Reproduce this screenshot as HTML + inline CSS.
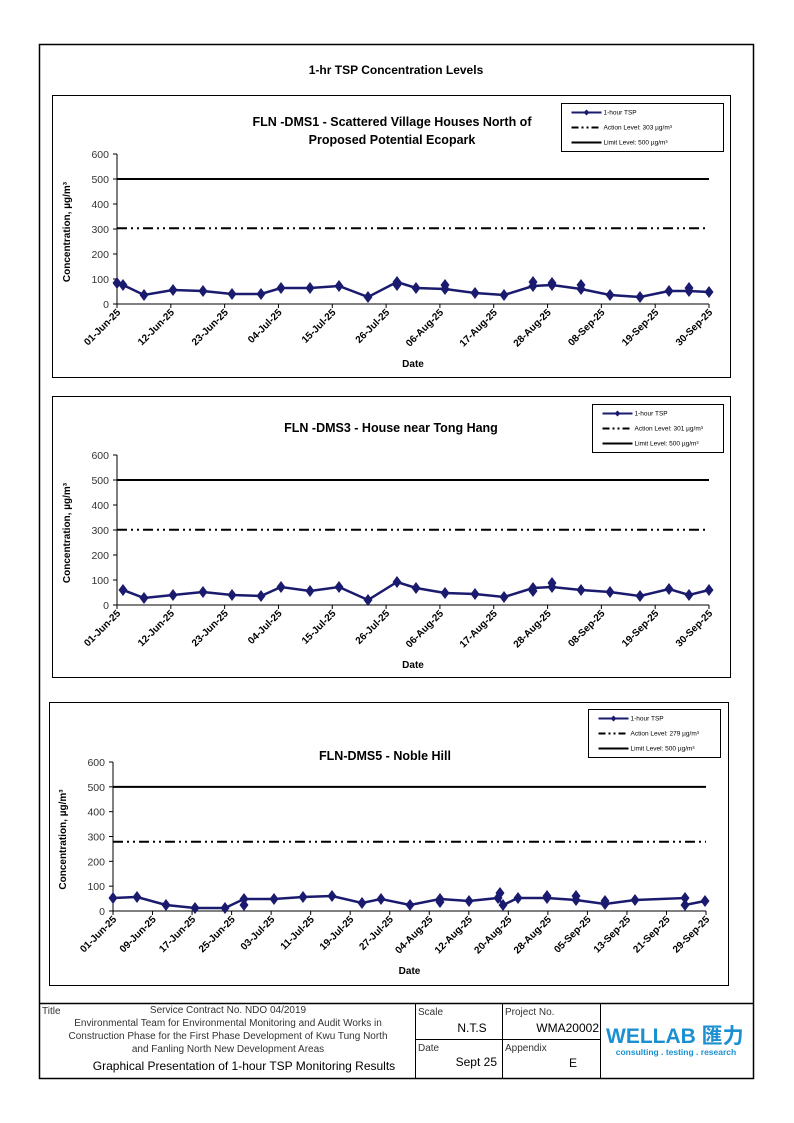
<!DOCTYPE html>
<html><head><meta charset="utf-8">
<style>
html,body{margin:0;padding:0;background:#fff;}
svg{display:block;font-family:"Liberation Sans",Arial,sans-serif;}
</style></head>
<body>
<svg id="s" width="794" height="1123" viewBox="0 0 794 1123" xmlns="http://www.w3.org/2000/svg">
<rect x="39.5" y="44.5" width="714" height="1034" fill="none" stroke="#000" stroke-width="1.5"/>
<text x="396" y="74" font-size="12" font-weight="bold" text-anchor="middle">1-hr TSP Concentration Levels</text>
<!-- footer -->
<line x1="39" y1="1003.5" x2="753" y2="1003.5" stroke="#000" stroke-width="1.5"/>
<line x1="415.5" y1="1003" x2="415.5" y2="1078" stroke="#000"/>
<line x1="502.5" y1="1003" x2="502.5" y2="1078" stroke="#000"/>
<line x1="600.5" y1="1003" x2="600.5" y2="1078" stroke="#000"/>
<line x1="415" y1="1039.5" x2="600" y2="1039.5" stroke="#000"/>
<g font-size="10" fill="#333">
<text x="42" y="1014">Title</text>
<text x="418" y="1015">Scale</text>
<text x="505" y="1015">Project No.</text>
<text x="418" y="1051">Date</text>
<text x="505" y="1051">Appendix</text>
<text x="228" y="1013" text-anchor="middle">Service Contract No. NDO 04/2019</text>
<text x="228" y="1026" text-anchor="middle">Environmental Team for Environmental Monitoring and Audit Works in</text>
<text x="228" y="1039" text-anchor="middle">Construction Phase for the First Phase Development of Kwu Tung North</text>
<text x="228" y="1052" text-anchor="middle">and Fanling North New Development Areas</text>
</g>
<g font-size="12" fill="#000">
<text x="244" y="1070" text-anchor="middle">Graphical Presentation of 1-hour TSP Monitoring Results</text>
<text x="472" y="1032" text-anchor="middle">N.T.S</text>
<text x="599" y="1032" text-anchor="end">WMA20002</text>
<text x="497" y="1066" text-anchor="end">Sept 25</text>
<text x="573" y="1067" text-anchor="middle">E</text>
</g>
<text x="606" y="1043" font-size="21" font-weight="bold" fill="#1b8fd0" font-family="Liberation Sans, 'Noto Sans CJK TC', sans-serif">WELLAB 匯力</text>
<text x="676" y="1055" font-size="8.5" fill="#1b8fd0" text-anchor="middle" font-weight="bold">consulting . testing . research</text>
<g id="charts"></g>
</svg>
<script>
const NS="http://www.w3.org/2000/svg";
const g=document.getElementById('charts');
let h='';
function chart(o){
 h+=`<rect x="${o.bx}" y="${o.by}" width="${o.bw}" height="${o.bh}" fill="none" stroke="#000" stroke-width="1"/>`;
 // legend
 const L=o.leg;
 h+=`<rect x="${L.x}" y="${L.y}" width="${L.w}" height="48" fill="#fff" stroke="#000" stroke-width="1"/>`;
 const lx=L.x+10, lx2=L.x+40;
 h+=`<line x1="${lx}" y1="${L.y+9}" x2="${lx2}" y2="${L.y+9}" stroke="#1a1a6e" stroke-width="2"/><path d="M${(lx+lx2)/2} ${L.y+6} l3 3 l-3 3 l-3 -3z" fill="#1a1a6e"/>`;
 h+=`<line x1="${lx}" y1="${L.y+24}" x2="${lx2}" y2="${L.y+24}" stroke="#000" stroke-width="2" stroke-dasharray="7,3,2,3,2,3"/>`;
 h+=`<line x1="${lx}" y1="${L.y+39}" x2="${lx2}" y2="${L.y+39}" stroke="#000" stroke-width="2"/>`;
 h+=`<g font-size="6.5"><text x="${lx2+2}" y="${L.y+11}">1-hour TSP</text><text x="${lx2+2}" y="${L.y+26}">Action Level: ${o.act} µg/m³</text><text x="${lx2+2}" y="${L.y+41}">Limit Level: 500 µg/m³</text></g>`;
 // titles
 o.titles.forEach((t,i)=>{h+=`<text x="${o.tx}" y="${o.ty+i*18}" font-size="12.5" font-weight="bold" text-anchor="middle">${t}</text>`;});
 const y=v=>o.y0-(o.y0-o.y600)*v/600;
 // axes
 h+=`<line x1="${o.x0}" y1="${o.y600}" x2="${o.x0}" y2="${o.y0}" stroke="#000"/><line x1="${o.x0}" y1="${o.y0}" x2="${o.x1}" y2="${o.y0}" stroke="#000"/>`;
 for(let v=0;v<=600;v+=100){h+=`<line x1="${o.x0-4}" y1="${y(v)}" x2="${o.x0}" y2="${y(v)}" stroke="#000"/><text x="${o.x0-8}" y="${y(v)+4}" font-size="10.5" fill="#333" text-anchor="end">${v}</text>`;}
 const n=o.labels.length-1;
 o.labels.forEach((l,i)=>{const x=o.x0+(o.x1-o.x0)*i/n;h+=`<line x1="${x}" y1="${o.y0}" x2="${x}" y2="${o.y0+4}" stroke="#000"/><text transform="translate(${x+4},${o.y0+9}) rotate(-45)" font-size="10" font-weight="bold" text-anchor="end">${l}</text>`;});
 h+=`<text x="${(o.x0+o.x1)/2}" y="${o.y0+63}" font-size="10" font-weight="bold" text-anchor="middle">Date</text>`;
 h+=`<text transform="translate(${o.x0-47},${(o.y0+o.y600)/2+3}) rotate(-90)" font-size="10" font-weight="bold" text-anchor="middle">Concentration, µg/m³</text>`;
 h+=`<line x1="${o.x0}" y1="${y(500)}" x2="${o.x1}" y2="${y(500)}" stroke="#000" stroke-width="2"/>`;
 h+=`<line x1="${o.x0}" y1="${y(o.act)}" x2="${o.x1}" y2="${y(o.act)}" stroke="#000" stroke-width="2" stroke-dasharray="10,4,2,4,2,4"/>`;
 h+=`<polyline points="${o.pts.map(p=>p.join(',')).join(' ')}" fill="none" stroke="#1a1a6e" stroke-width="2.5"/>`;
 o.pts.concat(o.extra||[]).forEach(p=>{h+=`<path d="M${p[0]} ${p[1]-6} l4.5 6 l-4.5 6 l-4.5 -6z" fill="#1a1a6e"/>`;});
}
const L1=['01-Jun-25','12-Jun-25','23-Jun-25','04-Jul-25','15-Jul-25','26-Jul-25','06-Aug-25','17-Aug-25','28-Aug-25','08-Sep-25','19-Sep-25','30-Sep-25'];
chart({bx:52.5,by:95.5,bw:678,bh:282,leg:{x:561.5,y:103.5,w:162},act:303,
 titles:['FLN -DMS1 - Scattered Village Houses North of','Proposed Potential Ecopark'],tx:392,ty:126,
 x0:117,x1:709,y0:304,y600:154,labels:L1,
 pts:[[117,283],[123,285],[144,295],[173,290],[203,291],[232,294],[261,294],[281,288],[310,288],[339,286],[368,297],[397,282],[416,288],[445,289],[475,293],[504,295],[533,286],[552,285],[581,289],[610,295],[640,297],[669,291],[689,291],[709,292]],
 extra:[[445,285],[533,282],[552,283],[581,285],[397,285],[689,288]]});
chart({bx:52.5,by:396.5,bw:678,bh:281,leg:{x:592.5,y:404.5,w:131},act:301,
 titles:['FLN -DMS3 - House near Tong Hang'],tx:391,ty:432,
 x0:117,x1:709,y0:605,y600:455,labels:L1,
 pts:[[123,590],[144,598],[173,595],[203,592],[232,595],[261,596],[281,587],[310,591],[339,587],[368,600],[397,582],[416,588],[445,593],[475,594],[504,597],[533,588],[552,587],[581,590],[610,592],[640,596],[669,589],[689,595],[709,590]],
 extra:[[533,591],[552,583]]});
chart({bx:49.5,by:702.5,bw:679,bh:283,leg:{x:588.5,y:709.5,w:132},act:279,
 titles:['FLN-DMS5 - Noble Hill'],tx:385,ty:760,
 x0:113,x1:706,y0:911,y600:762,
 labels:['01-Jun-25','09-Jun-25','17-Jun-25','25-Jun-25','03-Jul-25','11-Jul-25','19-Jul-25','27-Jul-25','04-Aug-25','12-Aug-25','20-Aug-25','28-Aug-25','05-Sep-25','13-Sep-25','21-Sep-25','29-Sep-25'],
 pts:[[113,898],[137,897],[166,905],[195,908],[225,908],[244,899],[274,899],[303,897],[332,896],[362,903],[381,899],[410,905],[440,899],[469,901],[498,898],[503,905],[518,898],[547,898],[576,900],[605,904],[635,900],[685,898],[685,905],[705,901]],
 extra:[[244,905],[500,893],[576,896],[605,901],[440,902],[547,896]]});
g.innerHTML=h;
</script>
</body></html>
